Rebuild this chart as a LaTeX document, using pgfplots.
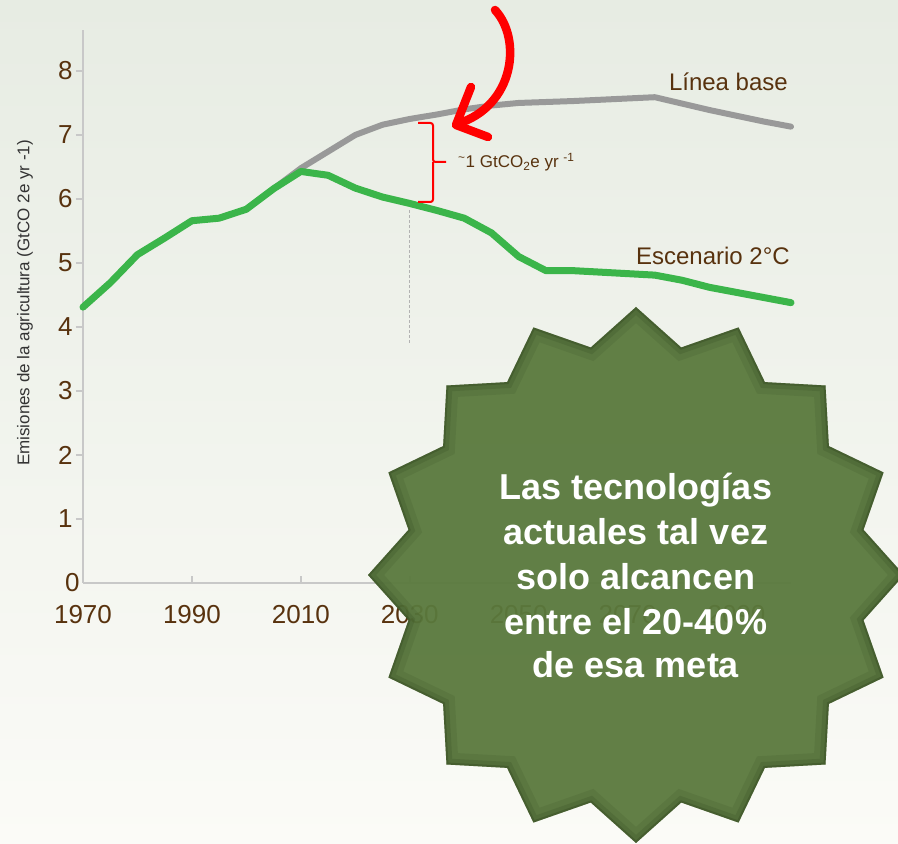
\documentclass[border=0pt]{standalone}
\usepackage{pgfplots}
\pgfplotsset{compat=1.18}
\usepackage{fontspec}
\setmainfont{Liberation Sans}
\definecolor{bgtop}{RGB}{231,236,227}
\definecolor{bgbot}{RGB}{251,251,247}
\definecolor{brownt}{RGB}{88,50,14}
\definecolor{gline}{RGB}{59,181,74}
\definecolor{bline}{RGB}{153,153,153}
\definecolor{starg}{RGB}{90,121,61}
\definecolor{stardark}{RGB}{35,52,20}
\definecolor{axgray}{RGB}{200,200,200}
\def\starpath{(90:268) \foreach \i [evaluate=\i as \r using {ifthenelse(mod(\i,2)==0,268,232)}] in {1,...,31}{ -- ({90+\i*11.25}:\r)} -- cycle}
\begin{document}
\begin{tikzpicture}[x=1pt,y=1pt]
\useasboundingbox (0,0) rectangle (898,844);
\clip (0,0) rectangle (898,844);
\shade[top color=bgtop, bottom color=bgbot] (0,0) rectangle (898,844);
\begin{axis}[
  at={(83pt,261pt)}, anchor=south west, scale only axis,
  width=708pt, height=553pt,
  xmin=1970, xmax=2100, ymin=0, ymax=8.64,
  axis lines*=left,
  axis line style={axgray, line width=1.5pt},
  xtick={1970,1990,...,2090},
  ytick={1,...,8},
  extra y ticks={0},
  extra y tick style={major tick length=0pt},
  xticklabel style={/pgf/number format/1000 sep={}, yshift=-19pt},
  /pgf/number format/assume math mode=true,
  ticklabel style={font=\fontsize{26}{30}\selectfont, text=brownt},
  tick style={axgray, line width=1.5pt},
  ytick align=outside, xtick align=inside,
  major tick length=7pt,
  clip=false,
]
\addplot[bline, line width=6pt, line join=round, line cap=round] coordinates {
(2005,6.16) (2010,6.48) (2015,6.74) (2020,7.00) (2025,7.16) (2030,7.25) (2035,7.32)
(2040,7.40) (2045,7.46) (2050,7.50) (2060,7.53) (2075,7.59) (2080,7.49) (2085,7.39)
(2090,7.30) (2095,7.21) (2100,7.13)};
\addplot[gline, line width=7pt, line join=round, line cap=round] coordinates {
(1970,4.31) (1975,4.69) (1980,5.13) (1985,5.39) (1990,5.66) (1995,5.70) (2000,5.84)
(2005,6.16) (2010,6.43) (2015,6.37) (2020,6.17) (2025,6.03) (2030,5.93) (2035,5.82)
(2040,5.70) (2045,5.47) (2050,5.10) (2055,4.88) (2060,4.88) (2075,4.81) (2080,4.73)
(2085,4.62) (2090,4.54) (2095,4.46) (2100,4.38)};
\draw[black!30, line width=1pt, dash pattern=on 3pt off 2pt] (axis cs:2030,5.82) -- (axis cs:2030,3.75);
\end{axis}
% y label
\node[rotate=90, font=\fontsize{17}{20}\selectfont, text=black!80] at (25,541) {Emisiones de la agricultura (GtCO 2e yr -1)};
% line labels
\node[anchor=base east, inner sep=0, font=\fontsize{24}{28}\selectfont, text=brownt] at (788,753) {Línea base};
\node[anchor=base east, inner sep=0, font=\fontsize{24}{28}\selectfont, text=brownt] at (790,579) {Escenario 2°C};
% bracket
\draw[red, line width=2pt, rounded corners=2.5pt] (418,721) -- (433,721) -- (433,682) -- (446,682);
\draw[red, line width=2pt, rounded corners=2.5pt] (418,642) -- (433,642) -- (433,682);
\node[anchor=base west, inner sep=0, font=\fontsize{17}{20}\selectfont, text=brownt] at (458,676) {\textsuperscript{\textasciitilde}1 GtCO\textsubscript{2}e yr \textsuperscript{-1}};
% arrow
\draw[red, line width=8.5pt, line cap=round] (495,834) .. controls (522,805) and (515,738) .. (457,720);
\draw[red, line width=8.5pt, line cap=round, line join=round] (471,757) -- (456,719) -- (488,707);
% star
\begin{scope}[shift={(636,269)}]
  \path[fill=starg, fill opacity=0.95] \starpath;
  \begin{scope}
    \clip \starpath;
    \draw[stardark, opacity=0.10, line width=24pt] \starpath;
    \draw[stardark, opacity=0.15, line width=12pt] \starpath;
    \draw[stardark, opacity=0.25, line width=4pt] \starpath;
  \end{scope}
\end{scope}
\foreach \t/\yb in {Las tecnologías/344, actuales tal vez/299, solo alcancen/254, entre el 20-40\%/209, de esa meta/166}{
  \node[anchor=base, inner sep=0, text=white, font=\fontsize{36}{44}\selectfont\bfseries] at (636,\yb) {\t};
}
\end{tikzpicture}
\end{document}
